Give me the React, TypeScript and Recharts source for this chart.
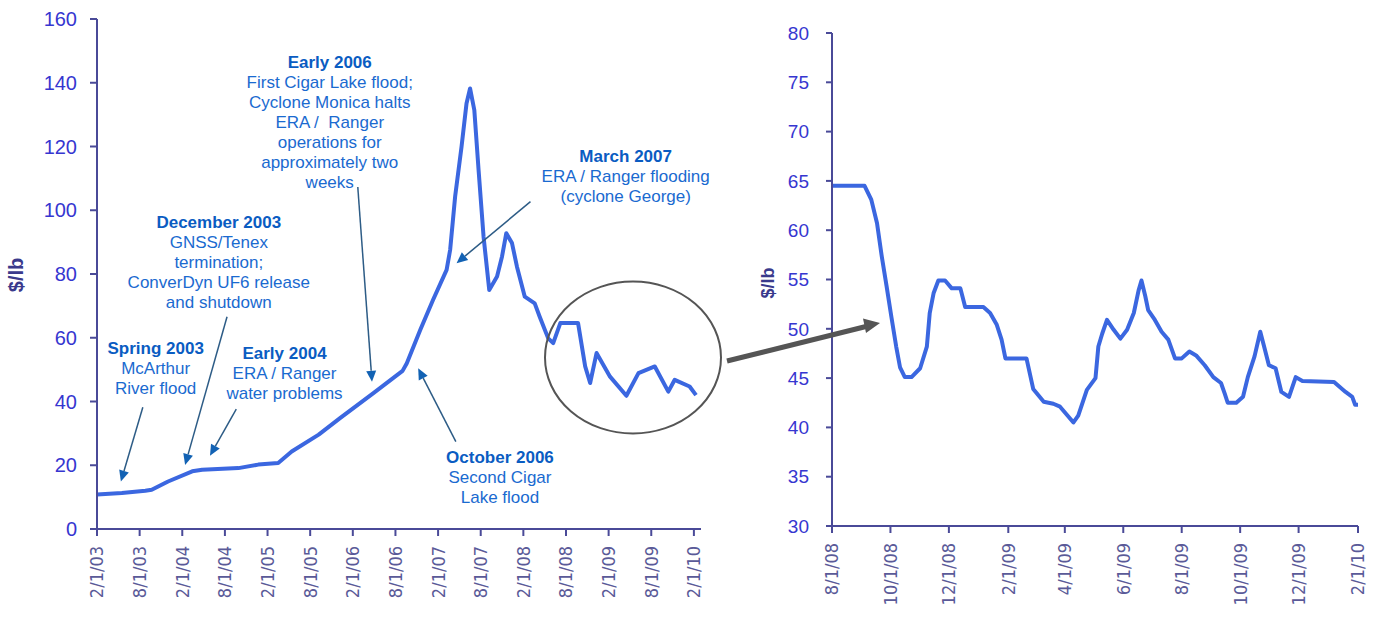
import React from 'react';
import { LineChart, Line, XAxis, YAxis, ReferenceLine, ReferenceDot } from 'recharts';

// Long view: x = months since 2/1/03, y = $/lb
const longMonths = [
  0, 3.5, 6.8, 7.7, 10, 13.4, 14.8, 19.9, 22.7, 25.5, 27.4, 31.2, 34.2, 38.9, 43.0, 43.6,
  45.5, 47.3, 49.2, 49.7, 50.4, 51.3, 52.0, 52.5, 53.1, 53.7, 54.4, 55.2, 56.3, 57.0, 57.6,
  58.4, 59.1, 60.2, 61.6, 62.3, 63.5, 64.2, 65.2, 67.7, 68.7, 69.4, 70.3, 72.2, 74.5, 76.2,
  78.5, 80.4, 81.3, 83.4, 84.3,
];
const longPrices = [
  10.8, 11.3, 12.0, 12.3, 14.9, 18.1, 18.6, 19.1, 20.2, 20.7, 24.3, 29.6, 34.8, 42.6, 49.6, 52.0,
  62.5, 71.9, 81.3, 87.6, 104.3, 119.9, 133.5, 138.2, 131.4, 112.6, 91.7, 75.0, 79.2, 85.5, 92.8,
  89.7, 82.3, 72.9, 70.8, 66.6, 59.8, 58.3, 64.6, 64.6, 51.0, 45.8, 55.2, 47.8, 41.8, 48.9,
  51.0, 43.1, 46.8, 44.7, 42.0,
];
const longTicks = [0, 6, 12, 18, 24, 30, 36, 42, 48, 54, 60, 66, 72, 78, 84];
const longTickLabels = [
  '2/1/03', '8/1/03', '2/1/04', '8/1/04', '2/1/05', '8/1/05', '2/1/06', '8/1/06',
  '2/1/07', '8/1/07', '2/1/08', '8/1/08', '2/1/09', '8/1/09', '2/1/10',
];
const longYTicks = [0, 20, 40, 60, 80, 100, 120, 140, 160];

// Detail view: x = days since 8/1/08
const shortDays = [
  0, 34, 41, 47, 52, 57, 62, 67, 71, 76, 83, 92, 99, 102, 106, 111, 118, 125, 134, 139, 158,
  165, 172, 177, 181, 203, 210, 221, 231, 238, 252, 257, 266, 275, 278, 282, 287, 294, 301,
  308, 315, 320, 323, 327, 330, 337, 344, 351, 358, 365, 373, 380, 389, 398, 406, 410, 413,
  422, 429, 434, 441, 447, 451, 456, 463, 469, 477, 484, 491, 524, 536, 543, 546, 549,
];
const shortPrices = [
  64.5, 64.5, 63.1, 60.7, 57.3, 54.3, 51.2, 48.2, 46.1, 45.1, 45.1, 46.0, 48.2, 51.6, 53.6, 54.9,
  54.9, 54.1, 54.1, 52.2, 52.2, 51.6, 50.4, 48.9, 47.0, 47.0, 43.9, 42.6, 42.4, 42.1, 40.5, 41.2,
  43.8, 45.0, 48.2, 49.5, 50.9, 49.9, 49.0, 49.9, 51.6, 53.9, 54.9, 53.3, 51.9, 50.9, 49.7, 48.9,
  47.0, 47.0, 47.7, 47.3, 46.3, 45.1, 44.5, 43.4, 42.5, 42.5, 43.1, 45.1, 47.2, 49.7, 48.2, 46.3,
  46.0, 43.6, 43.1, 45.1, 44.7, 44.6, 43.6, 43.1, 42.3, 42.3,
];
const shortTicks = [0, 61, 122, 184, 243, 304, 365, 426, 487, 549];
const shortTickLabels = [
  '8/1/08', '10/1/08', '12/1/08', '2/1/09', '4/1/09', '6/1/09', '8/1/09', '10/1/09', '12/1/09', '2/1/10',
];
const shortYTicks = [30, 35, 40, 45, 50, 55, 60, 65, 70, 75, 80];

// Event notes on the long view: text centre and arrow, all in data units
const events = [
  { title: 'Spring 2003', lines: ['McArthur', 'River flood'], at: [8.26, 56.9], from: [6.45, 38.2], to: [3.36, 14.9] },
  {
    title: 'December 2003',
    lines: ['GNSS/Tenex', 'termination;', 'ConverDyn UF6 release', 'and shutdown'],
    at: [17.14, 96.4], from: [18.3, 66.6], to: [12.4, 20.1],
  },
  { title: 'Early 2004', lines: ['ERA / Ranger', 'water problems'], at: [26.39, 55.4], from: [19.6, 37.6], to: [15.9, 23.0] },
  {
    title: 'Early 2006',
    lines: ['First Cigar Lake flood;', 'Cyclone Monica halts', 'ERA /  Ranger', 'operations for', 'approximately two', 'weeks'],
    at: [32.75, 146.4], from: [36.7, 107.3], to: [38.7, 46.2],
  },
  { title: 'October 2006', lines: ['Second Cigar', 'Lake flood'], at: [56.71, 22.5], from: [50.5, 27.4], to: [45.2, 50.4] },
  { title: 'March 2007', lines: ['ERA / Ranger flooding', '(cyclone George)'], at: [74.4, 117.2], from: [61.0, 102.7], to: [50.6, 83.4] },
];

const longData = longMonths.map((m, i) => ({ m, p: longPrices[i] }));
const shortData = shortDays.map((d, i) => ({ d, p: shortPrices[i] }));

const AXIS = '#4a4a98';
const LINE = '#3b67e0';
const YTICK = '#3636d0';
const XTICK = '#5a5a98';
const NOTE = '#1a6ad0';
const NOTE_BOLD = '#0a5cc2';
const FONT = '"Liberation Sans", Arial, sans-serif';
const NARROW = '"Liberation Sans Narrow", "DejaVu Sans Condensed", sans-serif';

const makeRotTick = (ticks: number[], labels: string[]) => (props: any) => {
  const { x, y, payload } = props;
  const idx = ticks.indexOf(payload.value);
  return (
    <g transform={`translate(${x},${y})`}>
      <text transform="rotate(-90)" textAnchor="end" dy="0.36em" fill={XTICK} fontSize={18} fontFamily={NARROW}>
        {idx >= 0 ? labels[idx] : ''}
      </text>
    </g>
  );
};

const NoteArrow = (props: any) => {
  const { x1, y1, x2, y2 } = props;
  const dx = x2 - x1;
  const dy = y2 - y1;
  const len = Math.sqrt(dx * dx + dy * dy) || 1;
  const ux = dx / len;
  const uy = dy / len;
  const head = 11;
  const half = 5;
  const bx = x2 - ux * head;
  const by = y2 - uy * head;
  return (
    <g>
      <line x1={x1} y1={y1} x2={bx} y2={by} stroke="#2d5c86" strokeWidth={1.5} />
      <polygon
        points={`${x2},${y2} ${bx - uy * half},${by + ux * half} ${bx + uy * half},${by - ux * half}`}
        fill="#1262b4"
      />
    </g>
  );
};

const noteText = (title: string, lines: string[]) => (props: any) => {
  const { cx, cy } = props;
  return (
    <text x={cx} y={cy} textAnchor="middle" fontFamily={FONT} fontSize={17} style={{ whiteSpace: 'pre' }}>
      <tspan x={cx} dy="0.36em" fontWeight="bold" fill={NOTE_BOLD}>{title}</tspan>
      {lines.map((l, i) => (
        <tspan key={i} x={cx} dy={20} fill={NOTE}>{l}</tspan>
      ))}
    </text>
  );
};

export default function App() {
  return (
    <div style={{ position: 'absolute', left: 0, top: 0, width: 1375, height: 619, background: '#fff', overflow: 'hidden' }}>
      <div style={{ position: 'absolute', left: 0, top: 0 }}>
        <LineChart width={730} height={619} data={longData} margin={{ top: 19, right: 29, bottom: 10, left: 0 }}>
          <XAxis
            dataKey="m"
            type="number"
            domain={[0, 85]}
            ticks={longTicks}
            interval={0}
            height={80}
            tickSize={7}
            tickMargin={10}
            axisLine={{ stroke: AXIS, strokeWidth: 2 }}
            tickLine={{ stroke: AXIS, strokeWidth: 2 }}
            tick={makeRotTick(longTicks, longTickLabels)}
          />
          <YAxis
            type="number"
            domain={[0, 160]}
            ticks={longYTicks}
            interval={0}
            width={97}
            tickSize={7}
            tickMargin={13}
            axisLine={{ stroke: AXIS, strokeWidth: 2 }}
            tickLine={{ stroke: AXIS, strokeWidth: 2 }}
            tick={{ fill: YTICK, fontSize: 20, fontFamily: FONT }}
          />
          <Line
            dataKey="p"
            type="linear"
            stroke={LINE}
            strokeWidth={4}
            strokeLinejoin="round"
            dot={false}
            isAnimationActive={false}
          />
          {events.map((e) => (
            <ReferenceLine
              key={`a-${e.title}`}
              segment={[{ x: e.from[0], y: e.from[1] }, { x: e.to[0], y: e.to[1] }]}
              shape={NoteArrow}
            />
          ))}
          {events.map((e) => (
            <ReferenceDot key={`t-${e.title}`} x={e.at[0]} y={e.at[1]} r={0} shape={noteText(e.title, e.lines)} />
          ))}
        </LineChart>
      </div>

      <div style={{ position: 'absolute', left: 720, top: 0 }}>
        <LineChart width={655} height={619} data={shortData} margin={{ top: 33, right: 17, bottom: 10, left: 0 }}>
          <XAxis
            dataKey="d"
            type="number"
            domain={[0, 549]}
            ticks={shortTicks}
            interval={0}
            height={83}
            tickSize={7}
            tickMargin={10}
            axisLine={{ stroke: AXIS, strokeWidth: 2 }}
            tickLine={{ stroke: AXIS, strokeWidth: 2 }}
            tick={makeRotTick(shortTicks, shortTickLabels)}
          />
          <YAxis
            type="number"
            domain={[30, 80]}
            ticks={shortYTicks}
            interval={0}
            width={112}
            tickSize={6}
            tickMargin={17}
            axisLine={{ stroke: AXIS, strokeWidth: 2 }}
            tickLine={{ stroke: AXIS, strokeWidth: 2 }}
            tick={{ fill: YTICK, fontSize: 19, fontFamily: FONT }}
          />
          <Line
            dataKey="p"
            type="linear"
            stroke={LINE}
            strokeWidth={4}
            strokeLinejoin="round"
            dot={false}
            isAnimationActive={false}
          />
        </LineChart>
      </div>

      {/* zoom ring, connector arrow and axis titles */}
      <svg width={1375} height={619} style={{ position: 'absolute', left: 0, top: 0, pointerEvents: 'none' }}>
        <ellipse cx={633} cy={357.5} rx={88} ry={76} fill="none" stroke="#555" strokeWidth={2} />
        <line x1={727} y1={361} x2={866} y2={326.5} stroke="#555" strokeWidth={5} />
        <polygon points="880,323 863,318.5 866,333" fill="#555" />
        <text
          transform="translate(23,275) rotate(-90)"
          textAnchor="middle"
          fontFamily={FONT}
          fontWeight="bold"
          fontSize={20}
          fill="#3a3a8c"
        >
          $/lb
        </text>
        <text
          transform="translate(774,283) rotate(-90)"
          textAnchor="middle"
          fontFamily={FONT}
          fontWeight="bold"
          fontSize={18}
          fill="#3a3a8c"
        >
          $/lb
        </text>
      </svg>
    </div>
  );
}
